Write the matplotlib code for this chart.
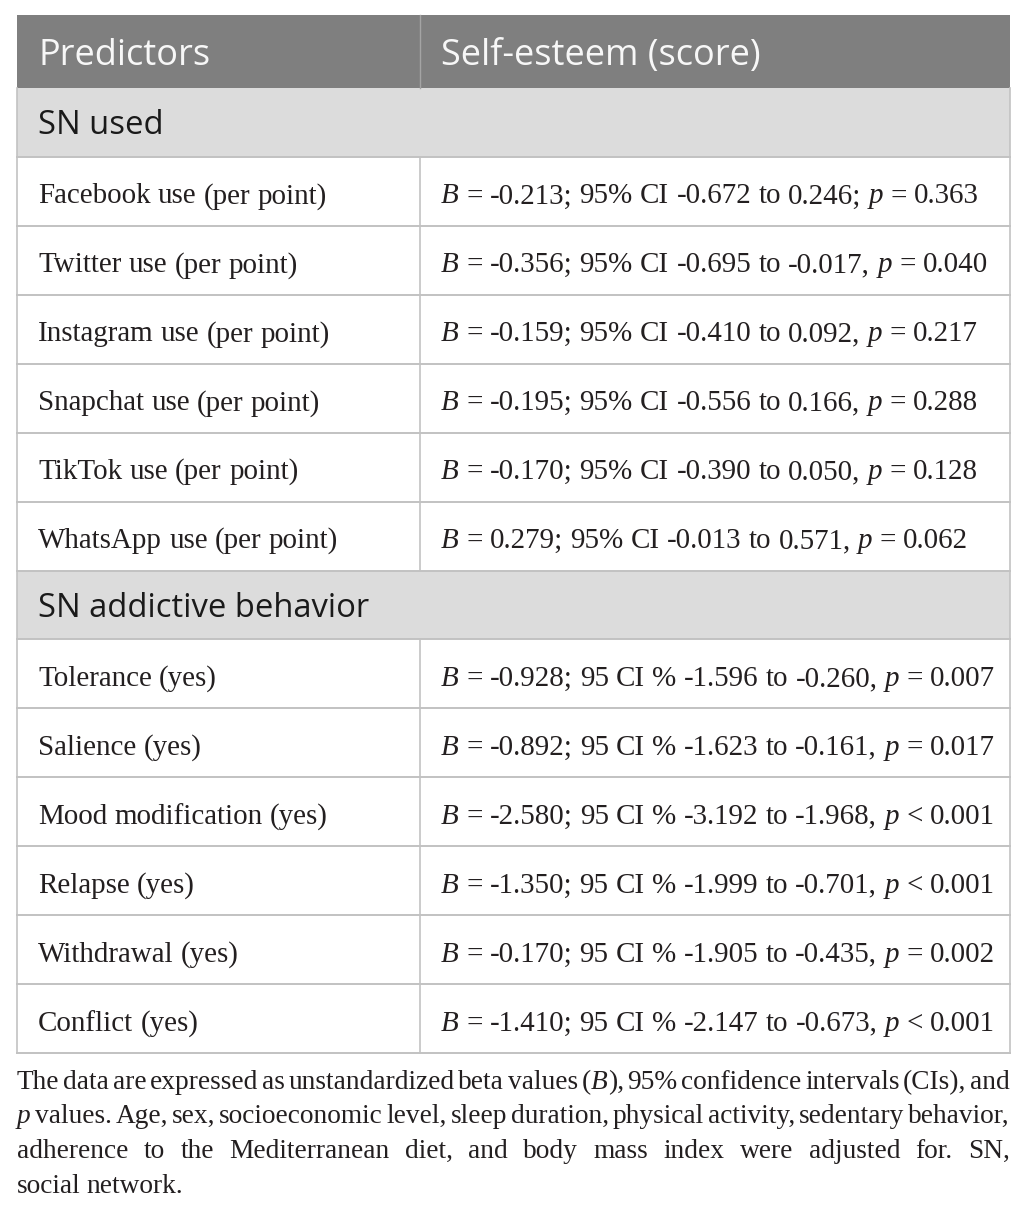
import matplotlib
matplotlib.use("Agg")
import matplotlib.pyplot as plt
from matplotlib.patches import Rectangle

# ---- table content ----
headers = ["Predictors", "Self-esteem (score)"]
sections = ["SN used", "SN addictive behavior"]

use_predictors = [
    "Facebook use (per point)",
    "Twitter use (per point)",
    "Instagram use (per point)",
    "Snapchat use (per point)",
    "TikTok use (per point)",
    "WhatsApp use (per point)",
]
use_effects = [
    "_B_ = -0.213; 95% CI -0.672 to 0.246; _p_ = 0.363",
    "_B_ = -0.356; 95% CI -0.695 to -0.017, _p_ = 0.040",
    "_B_ = -0.159; 95% CI -0.410 to 0.092, _p_ = 0.217",
    "_B_ = -0.195; 95% CI -0.556 to 0.166, _p_ = 0.288",
    "_B_ = -0.170; 95% CI -0.390 to 0.050, _p_ = 0.128",
    "_B_ = 0.279; 95% CI -0.013 to 0.571, _p_ = 0.062",
]

addiction_predictors = [
    "Tolerance (yes)",
    "Salience (yes)",
    "Mood modification (yes)",
    "Relapse (yes)",
    "Withdrawal (yes)",
    "Conflict (yes)",
]
addiction_effects = [
    "_B_ = -0.928; 95 CI % -1.596 to -0.260, _p_ = 0.007",
    "_B_ = -0.892; 95 CI % -1.623 to -0.161, _p_ = 0.017",
    "_B_ = -2.580; 95 CI % -3.192 to -1.968, _p_ < 0.001",
    "_B_ = -1.350; 95 CI % -1.999 to -0.701, _p_ < 0.001",
    "_B_ = -0.170; 95 CI % -1.905 to -0.435, _p_ = 0.002",
    "_B_ = -1.410; 95 CI % -2.147 to -0.673, _p_ < 0.001",
]

footnote_lines = [
    "The data are expressed as unstandardized beta values (_B_), 95% confidence intervals (CIs), and",
    "_p_ values. Age, sex, socioeconomic level, sleep duration, physical activity, sedentary behavior,",
    "adherence to the Mediterranean diet, and body mass index were adjusted for. SN,",
    "social network.",
]

# ---- layout (pixels) ----
W, H = 1027, 1210
LEFT, RIGHT, SPLIT = 17, 1010, 420
TOP, HEAD_BOT, TABLE_BOT = 15, 88, 1053
PAD = 21
SANS = "Open Sans"
SERIF = "Liberation Serif"

fig = plt.figure(figsize=(W / 100, H / 100), dpi=100)
ax = fig.add_axes([0, 0, 1, 1])
ax.set_xlim(0, W)
ax.set_ylim(H, 0)
ax.axis("off")
renderer = fig.canvas.get_renderer()


def ink_width(s, size, family, style="normal"):
    t = ax.text(0, 0, s, fontsize=size, family=family, style=style)
    w = t.get_window_extent(renderer).width
    t.remove()
    return w


def adv_width(s, size, family, style="normal"):
    # advance width: pad with x on both sides so side bearings count
    return (ink_width("x" + s + "x", size, family, style)
            - ink_width("xx", size, family, style))


def pieces(word):
    # parts wrapped in _x_ are drawn in italic
    out = []
    for k, part in enumerate(word.split("_")):
        if part:
            out.append((part, "italic" if k % 2 else "normal"))
    return out


def word_width(word, size, family):
    return sum(adv_width(p, size, family, st) for p, st in pieces(word))


def line_width(text, size, family, space_scale=1.0):
    words = text.split(" ")
    space = adv_width(" ", size, family) * space_scale
    return sum(word_width(w, size, family) for w in words) + space * (len(words) - 1)


def fit_size(s, family, target, space_scale=1.0):
    size = 20.0
    for _ in range(4):
        size *= target / line_width(s, size, family, space_scale)
    return size


def draw_rich(x, y, text, size, family, color="#231f20", justify_to=None,
              space_scale=1.0):
    words = text.split(" ")
    space = adv_width(" ", size, family) * space_scale
    widths = [word_width(w, size, family) for w in words]
    if justify_to is not None and len(words) > 1:
        space = (justify_to - sum(widths)) / (len(words) - 1)
    for w, ww in zip(words, widths):
        xx = x
        for p, st in pieces(w):
            ax.text(xx, y, p, fontsize=size, family=family, style=st,
                    color=color, va="baseline", ha="left")
            xx += adv_width(p, size, family, st)
        x += ww + space


head_size = fit_size(headers[1], SANS, 320)
sect_size = fit_size(sections[1], SANS, 329)
cell_size = fit_size(use_predictors[0], SERIF, 289)
note_size = fit_size(footnote_lines[0], SERIF, RIGHT - LEFT, space_scale=0.55)

line_c = "#c2c2c2"

# header band
ax.add_patch(Rectangle((LEFT, TOP), RIGHT - LEFT, HEAD_BOT - TOP, fc="#7f7f7f", ec="none"))
ax.plot([SPLIT, SPLIT], [TOP, HEAD_BOT], color="#a4a4a4", lw=1.0)
ax.text(LEFT + PAD, HEAD_BOT - 23, headers[0], fontsize=head_size, family=SANS,
        color="#f7f7f7", va="baseline")
ax.text(SPLIT + PAD, HEAD_BOT - 23, headers[1], fontsize=head_size, family=SANS,
        color="#f7f7f7", va="baseline")

rows = [("section", sections[0], None)]
rows += [("data", p, e) for p, e in zip(use_predictors, use_effects)]
rows += [("section", sections[1], None)]
rows += [("data", p, e) for p, e in zip(addiction_predictors, addiction_effects)]

row_h = (TABLE_BOT - HEAD_BOT) / len(rows)
for i, (kind, label, effect) in enumerate(rows):
    y0 = HEAD_BOT + i * row_h
    y1 = y0 + row_h
    mid = (y0 + y1) / 2
    if kind == "section":
        ax.add_patch(Rectangle((LEFT, y0), RIGHT - LEFT, row_h, fc="#dcdcdc", ec="none"))
        ax.text(LEFT + PAD, mid + 12, label, fontsize=sect_size, family=SANS,
                color="#1a1a1a", va="baseline")
    else:
        ax.plot([SPLIT, SPLIT], [y0, y1], color=line_c, lw=1.2)
        draw_rich(LEFT + PAD, mid + 12, label, cell_size, SERIF)
        draw_rich(SPLIT + PAD, mid + 12, effect, cell_size, SERIF)
    ax.plot([LEFT, RIGHT], [y1, y1], color=line_c, lw=1.4)

ax.plot([LEFT, LEFT], [HEAD_BOT, TABLE_BOT], color=line_c, lw=1.2)
ax.plot([RIGHT, RIGHT], [HEAD_BOT, TABLE_BOT], color=line_c, lw=1.2)

# footnote, justified except for the last line
note_base = [1089, 1123, 1158, 1193]
for k, (line, yb) in enumerate(zip(footnote_lines, note_base)):
    just = RIGHT - LEFT if k < len(footnote_lines) - 1 else None
    draw_rich(LEFT, yb, line, note_size, SERIF, justify_to=just, space_scale=0.8)

fig.savefig("out.png", dpi=100)
